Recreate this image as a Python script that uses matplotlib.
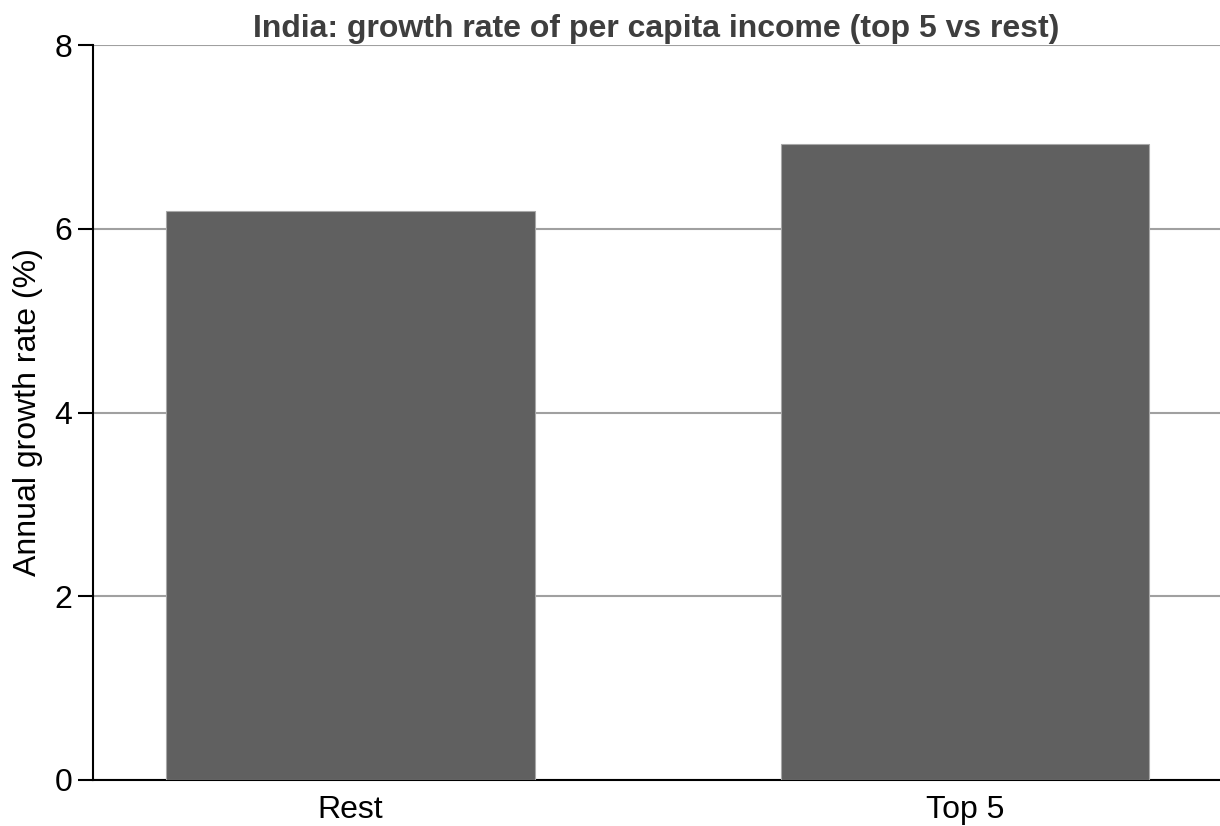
import matplotlib
matplotlib.use("Agg")
import matplotlib.pyplot as plt

categories = ["Rest", "Top 5"]
growth = [6.19, 6.92]
yticks = [0, 2, 4, 6, 8]

plt.rcParams["font.family"] = ["Liberation Sans", "DejaVu Sans"]

fig = plt.figure(figsize=(12.2, 8.26), dpi=100)
ax = fig.add_axes([0.0762, 0.0557, 0.9238, 0.8898])

x = list(range(len(categories)))
ax.bar(x, growth, width=0.6, color="#606060", edgecolor="#a8a8a8", linewidth=0.8, zorder=3)

ax.set_xlim(-0.419, 1.415)
ax.set_ylim(0, 8)
ax.set_yticks(yticks)
ax.set_yticklabels([str(t) for t in yticks])
ax.set_xticks(x)
ax.set_xticklabels(categories)

ax.grid(axis="y", color="#a0a0a0", linewidth=1.5, zorder=0)
ax.set_axisbelow(True)
for side in ("top", "right"):
    ax.spines[side].set_visible(False)
for side in ("left", "bottom"):
    ax.spines[side].set_linewidth(1.5)
    ax.spines[side].set_color("black")

ax.tick_params(axis="y", length=11, width=1.5, labelsize=23, pad=4)
ax.tick_params(axis="x", length=0, labelsize=23, pad=11)
ax.set_ylabel("Annual growth rate (%)", fontsize=23, labelpad=8)
ax.set_title("India: growth rate of per capita income (top 5 vs rest)",
             fontsize=23, fontweight="bold", color="#3e3e3e", pad=6)

fig.savefig("out.png", dpi=100)
